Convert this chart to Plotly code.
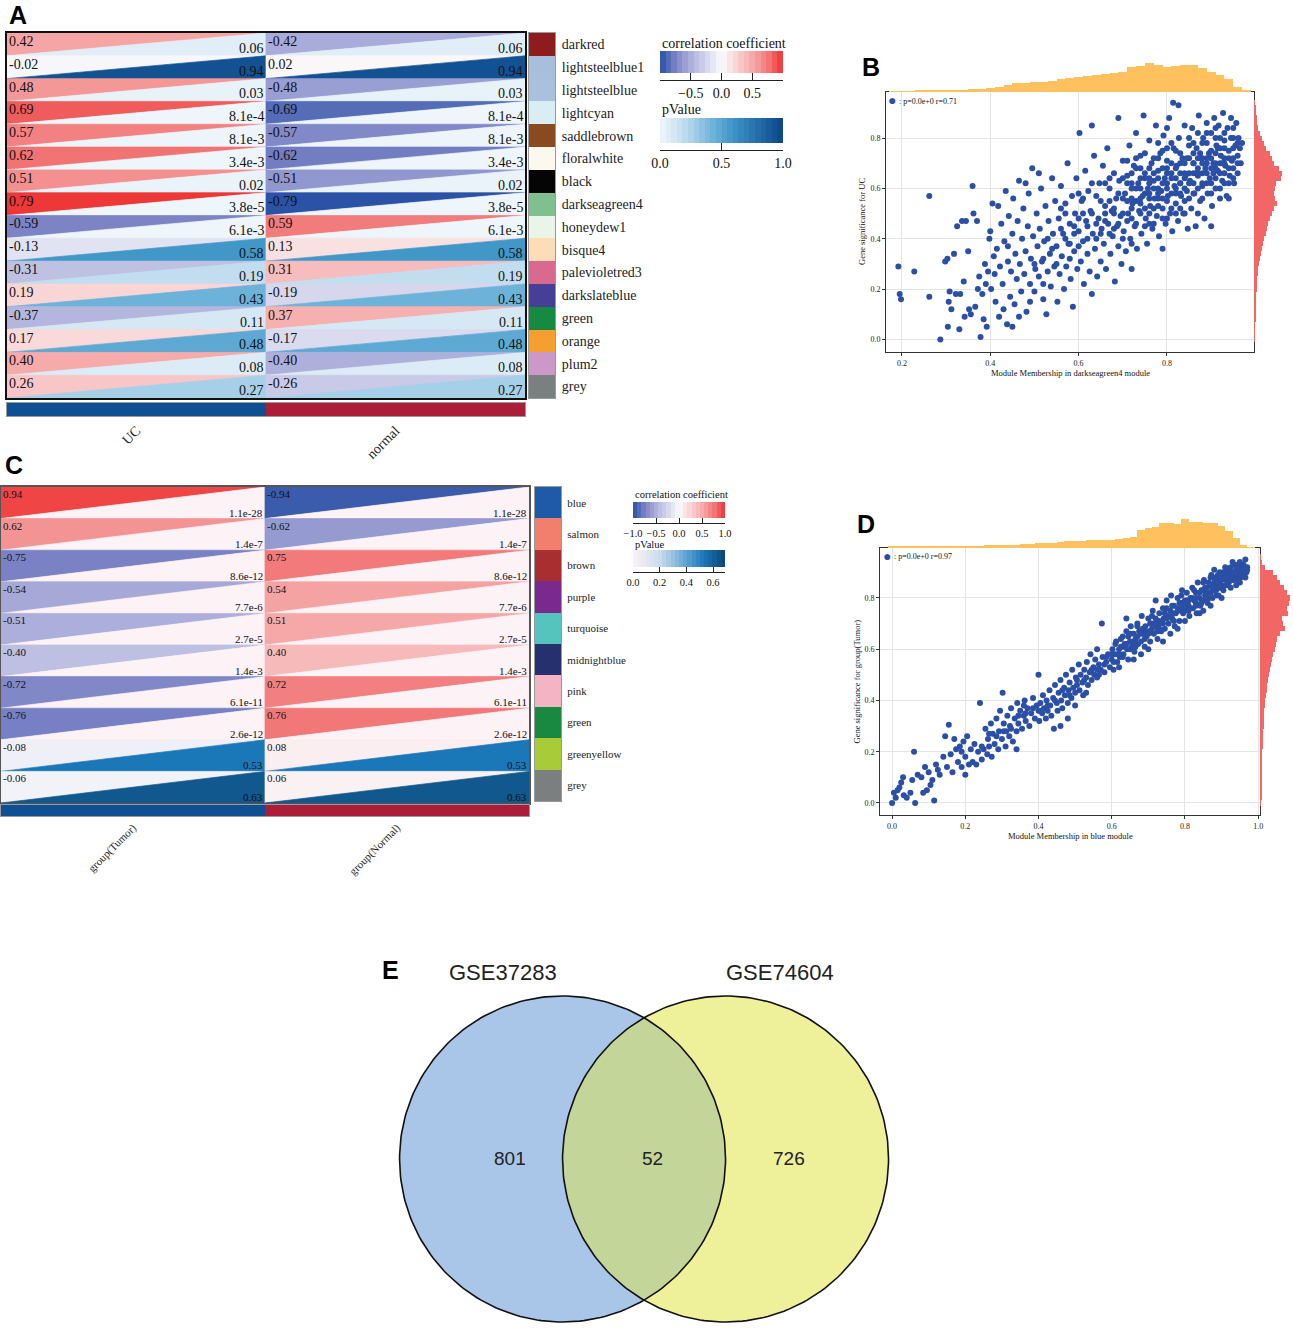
import numpy as np
import plotly.graph_objects as go
from plotly.colors import sample_colorscale

# ====================== DATA ======================
# Panel A : module-trait correlations (GSE37283)
a_modules = ["darkred", "lightsteelblue1", "lightsteelblue", "lightcyan", "saddlebrown",
             "floralwhite", "black", "darkseagreen4", "honeydew1", "bisque4",
             "palevioletred3", "darkslateblue", "green", "orange", "plum2", "grey"]
a_groups = ["UC", "normal"]
a_r_uc = [0.42, -0.02, 0.48, 0.69, 0.57, 0.62, 0.51, 0.79, -0.59, -0.13, -0.31, 0.19, -0.37, 0.17, 0.40, 0.26]
a_r_normal = [-0.42, 0.02, -0.48, -0.69, -0.57, -0.62, -0.51, -0.79, 0.59, 0.13, 0.31, -0.19, 0.37, -0.17, -0.40, -0.26]
a_p = ["0.06", "0.94", "0.03", "8.1e-4", "8.1e-3", "3.4e-3", "0.02", "3.8e-5", "6.1e-3",
       "0.58", "0.19", "0.43", "0.11", "0.48", "0.08", "0.27"]

# Panel C : module-trait correlations (GSE74604)
c_modules = ["blue", "salmon", "brown", "purple", "turquoise", "midnightblue", "pink",
             "green", "greenyellow", "grey"]
c_groups = ["group(Tumor)", "group(Normal)"]
c_r_tumor = [0.94, 0.62, -0.75, -0.54, -0.51, -0.40, -0.72, -0.76, -0.08, -0.06]
c_r_normal = [-0.94, -0.62, 0.75, 0.54, 0.51, 0.40, 0.72, 0.76, 0.08, 0.06]
c_p = ["1.1e-28", "1.4e-7", "8.6e-12", "7.7e-6", "2.7e-5", "1.4e-3", "6.1e-11", "2.6e-12", "0.53", "0.63"]

# Panel B : MM vs GS, darkseagreen4 module
b_points = [
    (0.192, 0.29), (0.195, 0.18), (0.198, 0.16), (0.228, 0.27), (0.262, 0.57), (0.262, 0.17), (0.287, 0.00),
    (0.298, 0.31), (0.303, 0.32), (0.306, 0.15), (0.308, 0.19), (0.304, 0.05), (0.312, 0.12), (0.318, 0.34),
    (0.322, 0.18), (0.325, 0.45), (0.330, 0.04), (0.332, 0.18), (0.336, 0.47), (0.340, 0.23), (0.342, 0.09),
    (0.345, 0.47), (0.350, 0.35), (0.352, 0.12), (0.356, 0.10), (0.360, 0.61), (0.362, 0.50), (0.366, 0.13),
    (0.370, 0.47), (0.372, 0.20), (0.375, 0.25), (0.378, 0.01), (0.382, 0.18), (0.385, 0.08), (0.388, 0.30),
    (0.390, 0.22), (0.392, 0.05), (0.395, 0.27), (0.398, 0.40),
    (0.400, 0.43), (0.402, 0.20), (0.405, 0.54), (0.408, 0.33), (0.410, 0.26), (0.412, 0.15), (0.415, 0.36),
    (0.418, 0.53), (0.420, 0.09), (0.422, 0.29), (0.425, 0.46), (0.428, 0.22), (0.430, 0.12), (0.432, 0.39),
    (0.435, 0.59), (0.438, 0.06), (0.440, 0.31), (0.442, 0.49), (0.445, 0.17), (0.447, 0.27), (0.450, 0.42),
    (0.452, 0.56), (0.455, 0.14), (0.457, 0.34), (0.460, 0.24), (0.462, 0.47), (0.465, 0.63), (0.467, 0.30),
    (0.470, 0.19), (0.472, 0.40), (0.475, 0.52), (0.477, 0.26), (0.480, 0.35), (0.482, 0.11), (0.485, 0.45),
    (0.487, 0.58), (0.490, 0.22), (0.492, 0.32), (0.495, 0.68), (0.497, 0.41), (0.500, 0.19), (0.502, 0.28),
    (0.505, 0.50), (0.507, 0.37), (0.510, 0.25), (0.512, 0.44), (0.515, 0.60), (0.517, 0.31), (0.520, 0.16),
    (0.522, 0.39), (0.525, 0.53), (0.527, 0.10), (0.530, 0.27), (0.532, 0.47), (0.535, 0.34), (0.537, 0.21),
    (0.540, 0.64), (0.542, 0.42), (0.545, 0.29), (0.547, 0.55), (0.550, 0.37), (0.450, 0.05), (0.480, 0.62),
    (0.465, 0.09), (0.510, 0.66), (0.440, 0.37), (0.490, 0.15), (0.530, 0.40), (0.520, 0.22),
    (0.552, 0.15), (0.555, 0.48), (0.557, 0.26), (0.560, 0.61), (0.562, 0.33), (0.565, 0.42), (0.567, 0.20),
    (0.570, 0.54), (0.572, 0.29), (0.575, 0.70), (0.577, 0.38), (0.580, 0.46), (0.582, 0.24), (0.585, 0.57),
    (0.587, 0.13), (0.590, 0.35), (0.592, 0.50), (0.595, 0.64), (0.597, 0.28), (0.600, 0.43), (0.602, 0.82),
    (0.605, 0.31), (0.607, 0.55), (0.610, 0.39), (0.612, 0.22), (0.615, 0.67), (0.617, 0.47), (0.620, 0.34),
    (0.622, 0.59), (0.625, 0.27), (0.627, 0.51), (0.630, 0.85), (0.630, 0.18), (0.632, 0.42), (0.635, 0.73),
    (0.637, 0.36), (0.640, 0.57), (0.642, 0.25), (0.645, 0.48), (0.647, 0.62), (0.650, 0.31), (0.652, 0.44),
    (0.655, 0.69), (0.657, 0.38), (0.660, 0.53), (0.662, 0.28), (0.665, 0.76), (0.667, 0.46), (0.670, 0.60),
    (0.672, 0.34), (0.675, 0.51), (0.677, 0.41), (0.680, 0.66), (0.682, 0.23), (0.685, 0.56), (0.687, 0.45),
    (0.690, 0.88), (0.690, 0.37), (0.692, 0.63), (0.695, 0.49), (0.697, 0.30), (0.700, 0.71), (0.570, 0.40),
    (0.590, 0.45), (0.610, 0.50), (0.620, 0.45), (0.640, 0.40), (0.660, 0.47), (0.680, 0.50), (0.600, 0.58),
    (0.580, 0.32), (0.650, 0.55), (0.670, 0.55), (0.630, 0.62), (0.560, 0.52), (0.600, 0.37),
    (0.702, 0.43), (0.705, 0.58), (0.707, 0.35), (0.710, 0.65), (0.712, 0.50), (0.715, 0.77), (0.717, 0.40),
    (0.720, 0.28), (0.720, 0.60), (0.722, 0.54), (0.725, 0.69), (0.727, 0.45), (0.730, 0.82), (0.732, 0.36),
    (0.735, 0.62), (0.737, 0.51), (0.740, 0.73), (0.742, 0.42), (0.745, 0.57), (0.747, 0.89), (0.750, 0.66),
    (0.752, 0.48), (0.755, 0.38), (0.757, 0.60), (0.760, 0.79), (0.762, 0.53), (0.765, 0.70), (0.767, 0.44),
    (0.770, 0.63), (0.772, 0.56), (0.775, 0.85), (0.777, 0.49), (0.780, 0.67), (0.782, 0.41), (0.785, 0.74),
    (0.787, 0.59), (0.790, 0.36), (0.790, 0.52), (0.792, 0.81), (0.795, 0.64), (0.797, 0.46), (0.800, 0.71),
    (0.802, 0.57), (0.805, 0.88), (0.807, 0.50), (0.810, 0.66), (0.812, 0.43), (0.814, 0.94), (0.815, 0.76),
    (0.817, 0.61), (0.820, 0.54), (0.822, 0.69), (0.825, 0.47), (0.826, 0.93), (0.827, 0.80), (0.830, 0.62),
    (0.832, 0.57), (0.835, 0.72), (0.837, 0.50), (0.840, 0.85), (0.842, 0.65), (0.845, 0.59), (0.847, 0.44),
    (0.850, 0.77), (0.720, 0.48), (0.730, 0.55), (0.740, 0.50), (0.750, 0.58), (0.760, 0.62), (0.770, 0.52),
    (0.780, 0.60), (0.790, 0.68), (0.800, 0.62), (0.810, 0.58), (0.820, 0.64), (0.830, 0.70), (0.840, 0.60),
    (0.850, 0.66), (0.710, 0.55), (0.730, 0.68), (0.750, 0.45), (0.770, 0.72), (0.790, 0.75), (0.810, 0.70),
    (0.830, 0.52), (0.760, 0.56), (0.780, 0.53), (0.800, 0.55), (0.740, 0.64), (0.820, 0.75), (0.845, 0.72),
    (0.700, 0.50), (0.720, 0.66), (0.760, 0.68), (0.800, 0.48), (0.840, 0.55),
    (0.852, 0.63), (0.855, 0.52), (0.857, 0.84), (0.860, 0.70), (0.862, 0.58), (0.865, 0.45), (0.867, 0.76),
    (0.870, 0.65), (0.872, 0.89), (0.875, 0.55), (0.877, 0.72), (0.880, 0.61), (0.882, 0.80), (0.885, 0.48),
    (0.887, 0.68), (0.890, 0.86), (0.892, 0.58), (0.895, 0.74), (0.897, 0.64), (0.900, 0.82), (0.902, 0.53),
    (0.905, 0.70), (0.907, 0.88), (0.910, 0.60), (0.912, 0.77), (0.915, 0.67), (0.917, 0.85), (0.920, 0.56),
    (0.922, 0.73), (0.925, 0.63), (0.927, 0.90), (0.930, 0.79), (0.932, 0.69), (0.935, 0.57), (0.937, 0.84),
    (0.940, 0.75), (0.942, 0.65), (0.945, 0.88), (0.947, 0.71), (0.950, 0.80), (0.952, 0.62), (0.955, 0.77),
    (0.957, 0.86), (0.960, 0.73), (0.962, 0.80), (0.965, 0.76), (0.967, 0.70), (0.970, 0.78), (0.860, 0.62),
    (0.870, 0.68), (0.880, 0.72), (0.890, 0.66), (0.900, 0.75), (0.910, 0.70), (0.920, 0.80), (0.930, 0.72),
    (0.940, 0.68), (0.950, 0.72), (0.880, 0.56), (0.900, 0.62), (0.920, 0.66), (0.860, 0.78), (0.890, 0.78),
    (0.910, 0.84), (0.930, 0.62), (0.870, 0.50), (0.900, 0.45), (0.940, 0.56), (0.960, 0.66), (0.905, 0.66),
    (0.875, 0.74), (0.915, 0.76), (0.945, 0.80), (0.865, 0.66), (0.925, 0.70),
]
b_core_points = [
    (0.66, 0.62), (0.67, 0.42), (0.68, 0.52), (0.69, 0.58), (0.70, 0.64), (0.70, 0.40), (0.71, 0.47),
    (0.71, 0.71), (0.72, 0.56), (0.72, 0.38), (0.73, 0.60), (0.73, 0.46), (0.74, 0.56), (0.74, 0.68),
    (0.75, 0.52), (0.75, 0.74), (0.76, 0.46), (0.76, 0.58), (0.77, 0.66), (0.77, 0.60), (0.78, 0.56),
    (0.78, 0.72), (0.79, 0.62), (0.79, 0.48), (0.80, 0.66), (0.80, 0.76), (0.81, 0.52), (0.81, 0.64),
    (0.82, 0.58), (0.82, 0.50), (0.83, 0.66), (0.83, 0.58), (0.84, 0.70), (0.84, 0.64), (0.85, 0.56),
    (0.85, 0.72), (0.86, 0.66), (0.86, 0.74), (0.87, 0.60), (0.87, 0.72), (0.88, 0.66), (0.88, 0.78),
    (0.89, 0.62), (0.89, 0.72), (0.90, 0.68), (0.90, 0.58), (0.91, 0.74), (0.91, 0.64), (0.92, 0.70),
    (0.92, 0.60), (0.93, 0.76), (0.93, 0.66), (0.94, 0.72), (0.94, 0.62), (0.95, 0.68), (0.95, 0.76),
    (0.96, 0.70), (0.96, 0.78), (0.88, 0.62), (0.86, 0.58), (0.84, 0.50), (0.82, 0.68), (0.80, 0.60),
    (0.78, 0.64), (0.76, 0.50), (0.74, 0.60), (0.72, 0.62), (0.70, 0.56), (0.68, 0.44), (0.66, 0.50),
    (0.64, 0.46), (0.62, 0.40), (0.60, 0.48), (0.58, 0.38), (0.56, 0.44), (0.54, 0.36), (0.52, 0.32),
    (0.50, 0.30), (0.55, 0.30), (0.57, 0.50), (0.59, 0.42), (0.61, 0.56), (0.63, 0.50), (0.65, 0.42),
    (0.67, 0.64), (0.69, 0.46), (0.71, 0.62), (0.73, 0.72), (0.75, 0.64), (0.77, 0.46), (0.79, 0.56),
    (0.81, 0.78), (0.83, 0.62), (0.85, 0.62), (0.87, 0.66), (0.89, 0.70), (0.91, 0.68), (0.93, 0.70),
    (0.95, 0.64), (0.92, 0.76), (0.90, 0.72), (0.88, 0.70), (0.86, 0.70), (0.84, 0.66), (0.82, 0.60),
    (0.80, 0.68), (0.78, 0.58), (0.76, 0.64), (0.74, 0.54), (0.72, 0.52), (0.83, 0.74), (0.87, 0.82),
    (0.91, 0.80), (0.85, 0.80), (0.89, 0.82), (0.93, 0.82), (0.95, 0.84), (0.80, 0.84), (0.78, 0.78),
]
b_stat = ": p=0.0e+0 r=0.71"
b_top_bins = [0.18, 0.20, 0.22, 0.24, 0.26, 0.28, 0.30, 0.32, 0.34, 0.36, 0.38, 0.40, 0.42, 0.44, 0.46,
              0.48, 0.50, 0.52, 0.54, 0.56, 0.58, 0.60, 0.62, 0.64, 0.66, 0.68, 0.70, 0.72, 0.74, 0.76,
              0.78, 0.80, 0.82, 0.84, 0.86, 0.88, 0.90, 0.92, 0.94, 0.96, 0.98]
b_top_counts = [1, 2, 2, 3, 3, 4, 5, 6, 7, 8, 10, 12, 15, 20, 25, 27, 28, 30, 32, 36, 40, 42, 46, 50, 52,
                55, 58, 72, 75, 83, 78, 72, 74, 76, 77, 68, 58, 50, 38, 15, 3]
b_right_bins = [0.00, 0.02, 0.04, 0.06, 0.08, 0.10, 0.12, 0.14, 0.16, 0.18, 0.20, 0.22, 0.24, 0.26, 0.28,
                0.30, 0.32, 0.34, 0.36, 0.38, 0.40, 0.42, 0.44, 0.46, 0.48, 0.50, 0.52, 0.54, 0.56, 0.58,
                0.60, 0.62, 0.64, 0.66, 0.68, 0.70, 0.72, 0.74, 0.76, 0.78, 0.80, 0.82, 0.84, 0.86, 0.88,
                0.90, 0.92, 0.94]
b_right_counts = [2, 3, 3, 3, 4, 4, 5, 6, 6, 7, 8, 9, 10, 11, 13, 15, 17, 20, 24, 27, 31, 35, 38, 42, 48,
                  55, 62, 70, 64, 60, 64, 68, 82, 85, 75, 62, 56, 48, 37, 30, 25, 18, 12, 10, 8, 6, 5, 3]

# Panel D : MM vs GS, blue module
d_points = [
    (0.000, 0.00), (0.005, 0.04), (0.010, 0.02), (0.015, 0.05), (0.020, 0.06), (0.025, 0.08), (0.030, 0.10),
    (0.032, 0.03), (0.040, 0.02), (0.050, 0.04), (0.055, 0.09), (0.060, 0.20), (0.063, 0.00), (0.070, 0.11),
    (0.080, 0.10), (0.085, 0.04), (0.090, 0.14), (0.095, 0.05), (0.100, 0.12), (0.105, 0.07), (0.110, 0.09),
    (0.115, 0.01), (0.120, 0.15), (0.125, 0.13), (0.130, 0.11), (0.140, 0.18), (0.145, 0.26), (0.150, 0.14),
    (0.155, 0.305), (0.160, 0.19), (0.165, 0.12), (0.170, 0.25), (0.175, 0.21), (0.180, 0.16), (0.185, 0.22),
    (0.190, 0.14), (0.195, 0.24), (0.200, 0.18), (0.190, 0.20), (0.200, 0.11),
    (0.205, 0.26), (0.210, 0.15), (0.215, 0.21), (0.220, 0.16), (0.225, 0.23), (0.230, 0.15), (0.235, 0.20),
    (0.240, 0.39), (0.245, 0.17), (0.250, 0.21), (0.255, 0.29), (0.260, 0.19), (0.262, 0.25), (0.265, 0.22),
    (0.270, 0.31), (0.272, 0.18), (0.275, 0.27), (0.280, 0.23), (0.285, 0.33), (0.290, 0.21), (0.292, 0.28),
    (0.295, 0.36), (0.300, 0.25), (0.302, 0.43), (0.305, 0.31), (0.310, 0.22), (0.312, 0.28), (0.315, 0.34),
    (0.320, 0.26), (0.322, 0.30), (0.325, 0.37), (0.330, 0.24), (0.335, 0.33), (0.340, 0.28), (0.342, 0.39),
    (0.345, 0.31), (0.350, 0.36), (0.355, 0.29), (0.360, 0.34), (0.362, 0.40), (0.365, 0.32), (0.370, 0.37),
    (0.375, 0.30), (0.380, 0.35), (0.385, 0.41), (0.390, 0.33), (0.395, 0.38), (0.400, 0.36), (0.340, 0.21),
    (0.360, 0.38),
    (0.400, 0.50), (0.402, 0.32), (0.405, 0.39), (0.410, 0.35), (0.412, 0.42), (0.415, 0.37), (0.420, 0.33),
    (0.422, 0.40), (0.425, 0.36), (0.430, 0.44), (0.432, 0.38), (0.435, 0.34), (0.440, 0.41), (0.442, 0.29),
    (0.445, 0.46), (0.450, 0.39), (0.452, 0.36), (0.455, 0.43), (0.460, 0.48), (0.462, 0.40), (0.465, 0.37),
    (0.470, 0.45), (0.472, 0.42), (0.475, 0.50), (0.480, 0.39), (0.482, 0.44), (0.485, 0.47), (0.490, 0.41),
    (0.492, 0.52), (0.495, 0.45), (0.500, 0.43), (0.502, 0.49), (0.505, 0.46), (0.510, 0.54), (0.512, 0.44),
    (0.515, 0.50), (0.520, 0.47), (0.522, 0.42), (0.525, 0.52), (0.530, 0.49), (0.532, 0.55), (0.535, 0.46),
    (0.540, 0.51), (0.542, 0.58), (0.545, 0.48), (0.550, 0.53), (0.552, 0.50), (0.555, 0.56), (0.560, 0.49),
    (0.565, 0.54), (0.570, 0.52), (0.573, 0.70), (0.575, 0.57), (0.580, 0.51), (0.585, 0.55), (0.590, 0.58),
    (0.595, 0.53), (0.600, 0.56), (0.480, 0.33), (0.500, 0.38), (0.530, 0.43), (0.560, 0.60), (0.460, 0.30),
    (0.602, 0.60), (0.605, 0.52), (0.610, 0.58), (0.612, 0.63), (0.615, 0.55), (0.620, 0.60), (0.622, 0.57),
    (0.625, 0.64), (0.630, 0.65), (0.632, 0.58), (0.635, 0.62), (0.640, 0.67), (0.642, 0.60), (0.645, 0.56),
    (0.650, 0.63), (0.652, 0.69), (0.655, 0.61), (0.660, 0.66), (0.662, 0.59), (0.665, 0.64), (0.670, 0.70),
    (0.672, 0.62), (0.675, 0.67), (0.680, 0.63), (0.682, 0.73), (0.685, 0.66), (0.690, 0.61), (0.692, 0.69),
    (0.695, 0.65), (0.700, 0.72), (0.702, 0.67), (0.705, 0.63), (0.710, 0.70), (0.712, 0.75), (0.715, 0.66),
    (0.720, 0.72), (0.722, 0.69), (0.725, 0.64), (0.730, 0.74), (0.732, 0.70), (0.735, 0.67), (0.740, 0.76),
    (0.742, 0.72), (0.745, 0.68), (0.750, 0.79), (0.752, 0.73), (0.755, 0.70), (0.760, 0.75), (0.762, 0.81),
    (0.765, 0.72), (0.770, 0.77), (0.772, 0.69), (0.775, 0.74), (0.780, 0.80), (0.782, 0.75), (0.785, 0.71),
    (0.790, 0.78), (0.792, 0.83), (0.795, 0.74), (0.800, 0.79), (0.620, 0.53), (0.660, 0.56), (0.700, 0.60),
    (0.740, 0.63), (0.780, 0.68), (0.640, 0.72), (0.680, 0.58), (0.720, 0.79), (0.760, 0.66), (0.800, 0.71),
    (0.802, 0.75), (0.805, 0.82), (0.810, 0.77), (0.812, 0.73), (0.815, 0.80), (0.820, 0.84), (0.822, 0.76),
    (0.825, 0.79), (0.830, 0.82), (0.832, 0.74), (0.835, 0.86), (0.840, 0.80), (0.842, 0.77), (0.845, 0.83),
    (0.850, 0.79), (0.852, 0.87), (0.855, 0.81), (0.860, 0.84), (0.862, 0.78), (0.865, 0.86), (0.870, 0.82),
    (0.872, 0.89), (0.875, 0.80), (0.880, 0.85), (0.882, 0.88), (0.885, 0.83), (0.890, 0.87), (0.892, 0.81),
    (0.895, 0.90), (0.900, 0.85), (0.902, 0.88), (0.905, 0.83), (0.910, 0.92), (0.912, 0.87), (0.915, 0.85),
    (0.920, 0.90), (0.922, 0.88), (0.925, 0.84), (0.930, 0.94), (0.932, 0.89), (0.935, 0.87), (0.940, 0.91),
    (0.942, 0.88), (0.945, 0.93), (0.950, 0.90), (0.952, 0.88), (0.955, 0.92), (0.960, 0.89), (0.962, 0.91),
    (0.965, 0.95), (0.968, 0.90), (0.970, 0.92), (0.830, 0.78), (0.860, 0.80), (0.890, 0.84), (0.920, 0.86),
    (0.950, 0.86), (0.840, 0.74), (0.870, 0.77), (0.900, 0.80), (0.880, 0.91), (0.850, 0.75), (0.910, 0.89),
    (0.940, 0.85),
]
d_core_points = [
    (0.56, 0.52), (0.58, 0.54), (0.60, 0.58), (0.62, 0.58), (0.63, 0.61), (0.64, 0.62), (0.65, 0.60),
    (0.66, 0.63), (0.67, 0.65), (0.68, 0.66), (0.69, 0.67), (0.70, 0.66), (0.71, 0.68), (0.72, 0.70),
    (0.73, 0.71), (0.74, 0.70), (0.75, 0.72), (0.76, 0.73), (0.77, 0.74), (0.78, 0.76), (0.79, 0.76),
    (0.80, 0.77), (0.81, 0.79), (0.82, 0.80), (0.83, 0.80), (0.84, 0.82), (0.85, 0.83), (0.86, 0.82),
    (0.87, 0.85), (0.88, 0.86), (0.89, 0.86), (0.90, 0.87), (0.91, 0.88), (0.92, 0.89), (0.93, 0.90),
    (0.94, 0.90), (0.95, 0.91), (0.96, 0.93), (0.97, 0.91), (0.965, 0.88), (0.945, 0.87), (0.925, 0.92),
    (0.905, 0.90), (0.885, 0.81), (0.865, 0.80), (0.845, 0.78), (0.825, 0.83), (0.805, 0.79), (0.785, 0.78),
    (0.765, 0.77), (0.745, 0.74), (0.725, 0.67), (0.705, 0.70), (0.685, 0.68), (0.665, 0.61), (0.645, 0.65),
    (0.625, 0.61), (0.605, 0.55), (0.585, 0.57), (0.565, 0.50), (0.545, 0.52), (0.525, 0.48), (0.505, 0.48),
    (0.485, 0.42), (0.465, 0.44), (0.445, 0.40), (0.425, 0.38), (0.405, 0.36), (0.385, 0.37), (0.365, 0.35),
    (0.345, 0.34), (0.325, 0.29), (0.305, 0.28), (0.285, 0.26), (0.265, 0.27), (0.245, 0.22), (0.89, 0.89),
    (0.91, 0.85), (0.93, 0.87), (0.95, 0.94), (0.87, 0.88), (0.85, 0.86), (0.83, 0.77), (0.81, 0.75),
    (0.79, 0.81), (0.77, 0.71), (0.75, 0.76), (0.73, 0.68), (0.71, 0.73), (0.69, 0.64), (0.67, 0.69),
    (0.65, 0.66), (0.63, 0.57), (0.61, 0.62), (0.955, 0.89), (0.935, 0.93), (0.915, 0.91), (0.895, 0.84),
    (0.875, 0.83), (0.855, 0.84),
]
d_stat = ": p=0.0e+0 r=0.97"
d_top_bins = [0.00, 0.02, 0.04, 0.06, 0.08, 0.10, 0.12, 0.14, 0.16, 0.18, 0.20, 0.22, 0.24, 0.26, 0.28,
              0.30, 0.32, 0.34, 0.36, 0.38, 0.40, 0.42, 0.44, 0.46, 0.48, 0.50, 0.52, 0.54, 0.56, 0.58,
              0.60, 0.62, 0.64, 0.66, 0.68, 0.70, 0.72, 0.74, 0.76, 0.78, 0.80, 0.82, 0.84, 0.86, 0.88,
              0.90, 0.92, 0.94, 0.96, 0.98]
d_top_counts = [3, 3, 3, 3, 3, 4, 4, 4, 4, 5, 5, 6, 6, 7, 7, 8, 8, 9, 11, 12, 13, 14, 15, 16, 18, 19, 20,
                21, 22, 22, 23, 25, 27, 30, 50, 54, 58, 68, 70, 65, 80, 72, 72, 70, 69, 60, 48, 28, 9, 2]
d_right_bins = [0.00, 0.02, 0.04, 0.06, 0.08, 0.10, 0.12, 0.14, 0.16, 0.18, 0.20, 0.22, 0.24, 0.26, 0.28,
                0.30, 0.32, 0.34, 0.36, 0.38, 0.40, 0.42, 0.44, 0.46, 0.48, 0.50, 0.52, 0.54, 0.56, 0.58,
                0.60, 0.62, 0.64, 0.66, 0.68, 0.70, 0.72, 0.74, 0.76, 0.78, 0.80, 0.82, 0.84, 0.86, 0.88,
                0.90, 0.92, 0.94, 0.96]
d_right_counts = [3, 4, 4, 4, 5, 5, 5, 6, 6, 7, 7, 8, 8, 9, 10, 11, 11, 12, 13, 15, 16, 18, 20, 22, 25,
                  28, 30, 33, 35, 40, 44, 48, 52, 60, 75, 68, 65, 85, 80, 88, 90, 80, 72, 60, 50, 38, 14, 4, 2]

# Panel E : Venn diagram
venn_sets = ["GSE37283", "GSE74604"]
venn_counts = [801, 52, 726]   # only left, both, only right

# ====================== STYLE ======================
W, H = 1293, 1330
SERIF = "Liberation Serif"
SANS = "Liberation Sans"
a_module_colors = ["#8d1c1f", "#a8bfdc", "#a9c1dd", "#d8eef3", "#8a4a20", "#fdf8ee", "#050505",
                   "#80bf8e", "#e8f5e8", "#fddcb8", "#d8698f", "#463f95", "#178a42", "#f5a02e",
                   "#cc98c8", "#7a7f7f"]
c_module_colors = ["#1f5aa8", "#f27f6e", "#a82e2f", "#7a2a8f", "#55c4bc", "#25306e", "#f4b4c4",
                   "#18893e", "#a8cc38", "#7b7f80"]
group_colors = ["#0f4f93", "#ab1d38"]
CORR_CS = [[0.0, "#2750a5"], [0.125, "#7a82c5"], [0.25, "#aeb0dc"], [0.5, "#fbfbfd"],
           [0.75, "#f6aaaa"], [0.875, "#f27a7a"], [1.0, "#ee3434"]]
PA_CS = [[0.0, "#eff6fb"], [0.2, "#bfdcee"], [0.45, "#66afd7"], [0.6, "#3d93c7"], [1.0, "#0a468a"]]
PC_CS = [[0.0, "#fdf2f6"], [0.3, "#c8dcec"], [0.55, "#6aa9d4"], [0.77, "#1a78b8"], [1.0, "#0b4574"]]
DOT = "#2a4fa5"
ORANGE = "#fec15d"
RED = "#f26666"
GRID = "#e4e4e4"

fig = go.Figure()
layout_axes = {}
annotations = []
counter = {"n": 0}


def px_x(a, b):
    return [a / W, b / W]


def px_y(top, bot):
    return [1 - bot / H, 1 - top / H]


BLANK = dict(showgrid=False, zeroline=False, showticklabels=False, ticks="", showline=False,
             fixedrange=True, automargin=False)


def add_axes(xdom, ydom, xopts=None, yopts=None):
    counter["n"] += 1
    n = counter["n"]
    s = "" if n == 1 else str(n)
    xo = dict(BLANK)
    xo.update(xopts or {})
    xo.update(domain=xdom, anchor="y" + s)
    yo = dict(BLANK)
    yo.update(yopts or {})
    yo.update(domain=ydom, anchor="x" + s)
    layout_axes["xaxis" + s] = xo
    layout_axes["yaxis" + s] = yo
    return "x" + s, "y" + s


def cs_color(cs, t):
    t = min(max(t, 0.0), 1.0)
    return sample_colorscale(cs, [t])[0]


def paper_text(x, y, text, size, family=SERIF, xanchor="left", color="#111", angle=0, bold=False):
    annotations.append(dict(xref="paper", yref="paper", x=x / W, y=1 - y / H,
                            text=("<b>%s</b>" % text) if bold else text,
                            showarrow=False, xanchor=xanchor, yanchor="middle", textangle=angle,
                            font=dict(family=family, size=size, color=color)))


def corr_panel(x0, x1, ytop, ybot, cols_r, p_text, rlim, p_cs, pmax, fs, box_color):
    n = len(p_text)
    xa, ya = add_axes(px_x(x0, x1), px_y(ytop, ybot),
                      xopts=dict(range=[0, 2], showline=True, mirror=True, linecolor=box_color, linewidth=1.5),
                      yopts=dict(range=[n, 0], showline=True, mirror=True, linecolor=box_color, linewidth=1.5))
    for j, rs in enumerate(cols_r):
        for i, r in enumerate(rs):
            p = float(p_text[i])
            c_r = cs_color(CORR_CS, (r + rlim) / (2 * rlim))
            c_p = cs_color(p_cs, p / pmax)
            fig.add_trace(go.Scatter(x=[j, j + 1, j, j], y=[i, i, i + 1, i], mode="lines", fill="toself",
                                     fillcolor=c_r, line=dict(color=c_r, width=0.7), xaxis=xa, yaxis=ya,
                                     hoverinfo="skip"))
            fig.add_trace(go.Scatter(x=[j, j + 1, j + 1, j], y=[i + 1, i, i + 1, i + 1], mode="lines",
                                     fill="toself", fillcolor=c_p, line=dict(color=c_p, width=0.7),
                                     xaxis=xa, yaxis=ya, hoverinfo="skip"))
            annotations.append(dict(xref=xa, yref=ya, x=j, y=i, xanchor="left", yanchor="top",
                                    text="%.2f" % r, showarrow=False, xshift=0, yshift=1,
                                    font=dict(family=SERIF, size=fs, color="#111")))
            annotations.append(dict(xref=xa, yref=ya, x=j + 1, y=i + 1, xanchor="right", yanchor="bottom",
                                    text=p_text[i], showarrow=False, xshift=0, yshift=-2,
                                    font=dict(family=SERIF, size=fs, color="#111")))
    return xa, ya


def module_strip(x0, x1, ytop, ybot, names, colors, fs):
    n = len(names)
    xa, ya = add_axes(px_x(x0, x1), px_y(ytop, ybot),
                      xopts=dict(range=[0, 1], showline=True, mirror=True, linecolor="#999", linewidth=1),
                      yopts=dict(range=[n, 0], side="right", showticklabels=True,
                                 tickvals=[i + 0.5 for i in range(n)], ticktext=names,
                                 ticklabelstandoff=3,
                                 tickfont=dict(family=SERIF, size=fs, color="#222"),
                                 showline=True, mirror=True, linecolor="#999", linewidth=1))
    fig.add_trace(go.Bar(y=[i + 0.5 for i in range(n)], x=[1] * n, orientation="h", width=1,
                         marker=dict(color=colors, line=dict(width=0)), xaxis=xa, yaxis=ya,
                         hoverinfo="skip"))


def group_bar(x0, x1, ytop, ybot, groups, fs):
    xa, ya = add_axes(px_x(x0, x1), px_y(ytop, ybot),
                      xopts=dict(range=[0, 2], tickvals=[0.5, 1.5], ticktext=groups, showticklabels=True,
                                 tickangle=-45, tickfont=dict(family=SERIF, size=fs, color="#222"),
                                 showline=True, mirror=True, linecolor="#999", linewidth=1),
                      yopts=dict(range=[0, 1], showline=True, mirror=True, linecolor="#999", linewidth=1))
    fig.add_trace(go.Bar(x=[0.5, 1.5], y=[1, 1], width=1, marker=dict(color=group_colors, line=dict(width=0)),
                         xaxis=xa, yaxis=ya, hoverinfo="skip"))


def legend_bar(x0, x1, ytop, ybot, gap, lo, hi, cs, tickvals, ticktext, fs, title, title_y, nb=22):
    xa, ya = add_axes(px_x(x0, x1), px_y(ytop, ybot + gap),
                      xopts=dict(range=[lo, hi], showline=True, linecolor="#222", linewidth=1, ticks="inside",
                                 ticklen=gap, tickcolor="#222", tickwidth=1, tickvals=tickvals,
                                 ticktext=ticktext, showticklabels=True,
                                 tickfont=dict(family=SERIF, size=fs, color="#111")),
                      yopts=dict(range=[-gap / (ybot - ytop), 1]))
    edges = np.linspace(lo, hi, nb + 1)
    centers = (edges[:-1] + edges[1:]) / 2
    fig.add_trace(go.Heatmap(z=[centers], x=centers, y=[0.5], colorscale=cs, zmin=lo, zmax=hi,
                             showscale=False, xaxis=xa, yaxis=ya, hoverinfo="skip"))
    paper_text(x0, title_y, title, fs)


def scatter_panel(x0, x1, ytop, ybot, xr, yr, pts, xt, yt, top_b, top_c, top_px, right_b, right_c,
                  right_px, stat, stat_xy, xtitle, xtitle_y, ytitle, ytitle_x):
    tf = dict(family=SERIF, size=8, color="#222")
    xs = [p[0] for p in pts]
    ys = [p[1] for p in pts]
    xa, ya = add_axes(px_x(x0, x1), px_y(ytop, ybot),
                      xopts=dict(range=xr, showgrid=True, gridcolor=GRID, gridwidth=1, showline=True,
                                 mirror=True, linecolor="#333", linewidth=1, ticks="outside", ticklen=3,
                                 tickcolor="#333", tickvals=xt, ticktext=["%.1f" % v for v in xt],
                                 showticklabels=True, tickfont=tf),
                      yopts=dict(range=yr, showgrid=True, gridcolor=GRID, gridwidth=1, showline=True,
                                 mirror=True, linecolor="#333", linewidth=1, ticks="outside", ticklen=3,
                                 tickcolor="#333", tickvals=yt, ticktext=["%.1f" % v for v in yt],
                                 showticklabels=True, tickfont=tf))
    fig.add_trace(go.Scatter(x=xs, y=ys, mode="markers",
                             marker=dict(size=6, color=DOT, line=dict(width=0)),
                             xaxis=xa, yaxis=ya, hoverinfo="skip"))
    bw = top_b[1] - top_b[0]
    xa2, ya2 = add_axes(px_x(x0, x1), px_y(ytop - top_px, ytop), xopts=dict(range=xr),
                        yopts=dict(range=[0, max(top_c)]))
    fig.add_trace(go.Bar(x=top_b, y=top_c, width=bw, marker=dict(color=ORANGE, line=dict(width=0)),
                         xaxis=xa2, yaxis=ya2, hoverinfo="skip"))
    bw2 = right_b[1] - right_b[0]
    xa3, ya3 = add_axes(px_x(x1, x1 + right_px), px_y(ytop, ybot), xopts=dict(range=[0, max(right_c)]),
                        yopts=dict(range=yr))
    fig.add_trace(go.Bar(y=right_b, x=right_c, width=bw2, orientation="h",
                         marker=dict(color=RED, line=dict(width=0)), xaxis=xa3, yaxis=ya3, hoverinfo="skip"))
    paper_text(stat_xy[0], stat_xy[1], "●", 14, color=DOT, xanchor="center")
    paper_text(stat_xy[0] + 5, stat_xy[1] + 1, stat, 8)
    paper_text((x0 + x1) / 2, xtitle_y, xtitle, 8.5, xanchor="center")
    paper_text(ytitle_x, (ytop + ybot) / 2, ytitle, 8.5, xanchor="center", angle=-90)


# ---------------- Panel A ----------------
corr_panel(7, 525, 33, 398, [a_r_uc, a_r_normal], a_p, 0.8, PA_CS, 1.0, 14, "#111")
module_strip(529, 555, 33, 398, a_modules, a_module_colors, 14)
group_bar(7, 525, 403, 416, a_groups, 14)
legend_bar(660, 783, 51, 73, 7, -1.0, 1.0, CORR_CS, [-1.0, -0.5, 0.0, 0.5, 1.0],
           ["", "−0.5", "0.0", "0.5", ""], 14, "correlation coefficient", 44)
legend_bar(660, 783, 118, 143, 7, 0.0, 1.0, PA_CS, [0.0, 0.5, 1.0], ["0.0", "0.5", "1.0"], 14,
           "pValue", 110)

# ---------------- Panel C ----------------
corr_panel(1, 529, 487, 803, [c_r_tumor, c_r_normal], c_p, 1.0, PC_CS, 0.69, 11, "#555")
module_strip(535, 561, 487, 801, c_modules, c_module_colors, 11)
group_bar(1, 529, 805, 816, c_groups, 11)
legend_bar(633, 725, 502, 518, 5, -1.0, 1.0, CORR_CS, [-1.0, -0.5, 0.0, 0.5, 1.0],
           ["−1.0", "−0.5", "0.0", "0.5", "1.0"], 10.5, "correlation coefficient", 495)
legend_bar(633, 725, 550, 567, 5, 0.0, 0.69, PC_CS, [0.0, 0.2, 0.4, 0.6, 0.69], ["0.0", "0.2", "0.4", "0.6", ""],
           10.5, "pValue", 544)

# ---------------- Panel B ----------------
scatter_panel(886, 1254, 92, 352, [0.164, 0.997], [-0.05, 0.983], b_points + b_core_points,
              [0.2, 0.4, 0.6, 0.8], [0.0, 0.2, 0.4, 0.6, 0.8], b_top_bins, b_top_counts, 29,
              b_right_bins, b_right_counts, 28, b_stat, (892, 100),
              "Module Membership in darkseagreen4 module", 373, "Gene significance for UC", 862)

# ---------------- Panel D ----------------
scatter_panel(880, 1260, 548, 815, [-0.033, 1.005], [-0.047, 0.995], d_points + d_core_points,
              [0.0, 0.2, 0.4, 0.6, 0.8, 1.0], [0.0, 0.2, 0.4, 0.6, 0.8], d_top_bins, d_top_counts, 29,
              d_right_bins, d_right_counts, 30, d_stat, (887, 556), "Module Membership in blue module", 836,
              "Gene significance for group(Tumor)", 856)

# ---------------- Panel E : Venn ----------------
half_sep = 0.5
xa, ya = add_axes(px_x(380, 920), px_y(950, 1330), xopts=dict(range=[-1.62, 1.693]),
                  yopts=dict(range=[-1.049, 1.282]))
th = np.linspace(0, 2 * np.pi, 241)
fig.add_trace(go.Scatter(x=-half_sep + np.cos(th), y=np.sin(th), mode="lines", fill="toself",
                         fillcolor="#a9c6e9", line=dict(width=0), xaxis=xa, yaxis=ya, hoverinfo="skip"))
fig.add_trace(go.Scatter(x=half_sep + np.cos(th), y=np.sin(th), mode="lines", fill="toself",
                         fillcolor="#eef09a", line=dict(width=0), xaxis=xa, yaxis=ya, hoverinfo="skip"))
alpha = np.arccos(half_sep)
t1 = np.linspace(-alpha, alpha, 80)
t2 = np.linspace(np.pi - alpha, np.pi + alpha, 80)
lens_x = np.concatenate([-half_sep + np.cos(t1), half_sep + np.cos(t2)])
lens_y = np.concatenate([np.sin(t1), np.sin(t2)])
fig.add_trace(go.Scatter(x=lens_x, y=lens_y, mode="lines", fill="toself", fillcolor="#c3d598",
                         line=dict(width=0), xaxis=xa, yaxis=ya, hoverinfo="skip"))
for c in (-half_sep, half_sep):
    fig.add_trace(go.Scatter(x=c + np.cos(th), y=np.sin(th), mode="lines", line=dict(color="#111", width=1.6),
                             xaxis=xa, yaxis=ya, hoverinfo="skip"))
for txt, xx in zip(venn_sets, [-0.865, 0.834]):
    annotations.append(dict(xref=xa, yref=ya, x=xx, y=1.147, text=txt, showarrow=False,
                            font=dict(family=SANS, size=22, color="#222")))
for cnt, xx in zip(venn_counts, [-0.82, 0.05, 0.89]):
    annotations.append(dict(xref=xa, yref=ya, x=xx, y=0.0, text=str(cnt), showarrow=False,
                            font=dict(family=SANS, size=19, color="#222")))

# ---------------- panel letters ----------------
for letter, lx, ly in [("A", 7, 15), ("B", 860, 67), ("C", 3, 465), ("D", 855, 524), ("E", 380, 970)]:
    paper_text(lx, ly, letter, 25, family=SANS, color="#000", bold=True)

fig.update_layout(**layout_axes)
fig.update_layout(width=W, height=H, margin=dict(l=0, r=0, t=0, b=0, autoexpand=False),
                  paper_bgcolor="white", plot_bgcolor="rgba(0,0,0,0)", showlegend=False, bargap=0,
                  annotations=annotations)
fig.write_html("out.html", config={"displayModeBar": False},
               post_script="document.body.style.margin='0';document.body.style.overflow='hidden';")
